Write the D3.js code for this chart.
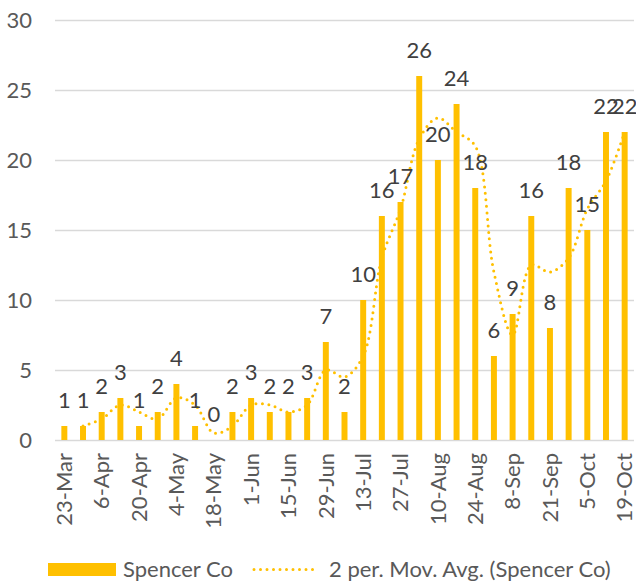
<!doctype html>
<html>
<head>
    <meta charset="utf-8">
    <title>Spencer Co weekly</title>
    <script src="https://d3js.org/d3.v7.min.js"></script>
    <style>
        body { margin: 0; background: #fff; }
        text { font-family: Lato, "Open Sans", sans-serif; }
        .axis text { fill: #595959; font-size: 22px; }
        .label { fill: #404040; font-size: 22px; text-anchor: middle; }
    </style>
</head>
<body>
<script>
// weekly categories
const weeks = ["23-Mar","30-Mar","6-Apr","13-Apr","20-Apr","27-Apr","4-May","11-May","18-May","25-May",
               "1-Jun","8-Jun","15-Jun","22-Jun","29-Jun","6-Jul","13-Jul","20-Jul","27-Jul","3-Aug",
               "10-Aug","17-Aug","24-Aug","31-Aug","8-Sep","14-Sep","21-Sep","28-Sep","5-Oct","12-Oct","19-Oct"];
const cases = [1,1,2,3,1,2,4,1,0,2,3,2,2,3,7,2,10,16,17,26,20,24,18,6,9,16,8,18,15,22,22];
// 2 period moving average, starts at the 2nd week
const movAvg = [null,1,1.5,2.5,2,1.5,3,2.5,0.5,1,2.5,2.5,2,2.5,5,4.5,6,13,16.5,21.5,23,22,21,12,7.5,12.5,12,13,16.5,18.5,22];
const xTicks = ["23-Mar","6-Apr","20-Apr","4-May","18-May","1-Jun","15-Jun","29-Jun","13-Jul","27-Jul",
                "10-Aug","24-Aug","8-Sep","21-Sep","5-Oct","19-Oct"];
const yTicks = [0,5,10,15,20,25,30];

const w = 636, h = 582;
const plotL = 55, plotR = 634, plotT = 20, plotB = 440;
const gold = "#FFC000";

const svg = d3.select("body").append("svg")
    .attr("width", w)
    .attr("height", h);

const x = d3.scaleBand()
    .domain(weeks)
    .range([plotL, plotR])
    .paddingInner(0.68)
    .paddingOuter(0.34);

const y = d3.scaleLinear()
    .domain([0, 30])
    .range([plotB, plotT]);

// gridlines + y labels
const yAxis = svg.append("g")
    .attr("class", "axis")
    .attr("transform", "translate(" + plotL + ",0)")
    .call(d3.axisLeft(y).tickValues(yTicks).tickSize(-(plotR - plotL)).tickPadding(23));
yAxis.select(".domain").remove();
yAxis.selectAll("line").attr("stroke", "#D9D9D9").attr("stroke-width", 1.3);

// bars
svg.selectAll("rect.bar")
    .data(cases)
    .enter()
    .append("rect")
    .attr("class", "bar")
    .attr("x", (d, i) => x(weeks[i]))
    .attr("y", d => y(d))
    .attr("width", x.bandwidth())
    .attr("height", d => plotB - y(d))
    .attr("fill", gold);

// moving average trendline
const line = d3.line()
    .defined(d => d != null)
    .x((d, i) => x(weeks[i]) + x.bandwidth() / 2)
    .y(d => y(d))
    .curve(d3.curveCatmullRom.alpha(0.5));
svg.append("path")
    .datum(movAvg)
    .attr("d", line)
    .attr("fill", "none")
    .attr("stroke", gold)
    .attr("stroke-width", 3)
    .attr("stroke-linecap", "round")
    .attr("stroke-dasharray", "0 6.5");

// x axis
const xAxis = svg.append("g")
    .attr("class", "axis")
    .attr("transform", "translate(0," + plotB + ")")
    .call(d3.axisBottom(x).tickValues(xTicks).tickSize(0));
xAxis.select(".domain").remove();
xAxis.selectAll("text")
    .attr("transform", "rotate(-90)")
    .attr("x", -13)
    .attr("y", 0)
    .attr("dy", "0.35em")
    .attr("text-anchor", "end");

// data labels
svg.selectAll("text.label")
    .data(cases)
    .enter()
    .append("text")
    .attr("class", "label")
    .attr("x", (d, i) => x(weeks[i]) + x.bandwidth() / 2)
    .attr("y", d => y(d) - 18)
    .text(d => d);

// legend
const legend = svg.append("g").attr("class", "axis");
legend.append("rect")
    .attr("x", 48).attr("y", 563)
    .attr("width", 68).attr("height", 13)
    .attr("fill", gold);
legend.append("text")
    .attr("x", 123).attr("y", 577)
    .text("Spencer Co");
legend.append("line")
    .attr("x1", 254).attr("x2", 318)
    .attr("y1", 569.5).attr("y2", 569.5)
    .attr("stroke", gold)
    .attr("stroke-width", 3)
    .attr("stroke-linecap", "round")
    .attr("stroke-dasharray", "0 6.5");
legend.append("text")
    .attr("x", 329).attr("y", 577)
    .text("2 per. Mov. Avg. (Spencer Co)");
</script>
</body>
</html>
